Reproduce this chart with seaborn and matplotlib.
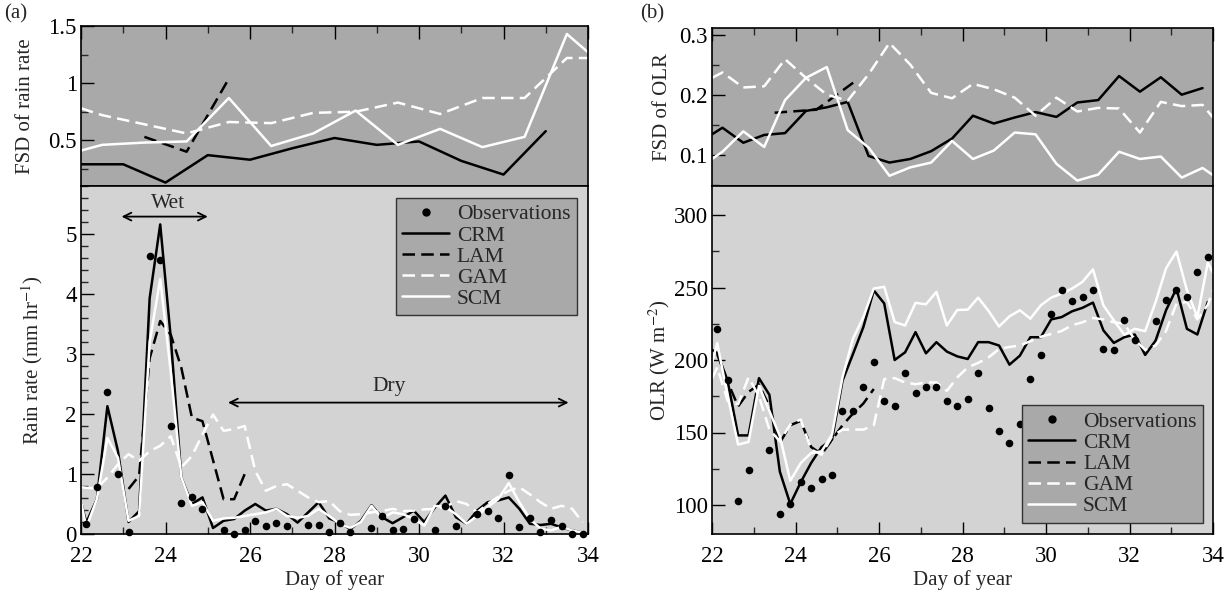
import numpy as np
import pandas as pd
import matplotlib
matplotlib.use("Agg")
import matplotlib.pyplot as plt
import matplotlib.ticker as mticker
from matplotlib.lines import Line2D
import seaborn as sns

nan = np.nan

# ---------------- (a) upper: FSD of rain rate ----------------
fsd_rain_crm_day = [22, 23, 24, 25, 26, 27, 28, 29, 30, 31, 32, 33]
fsd_rain_crm = [0.29, 0.29, 0.13, 0.37, 0.33, 0.43, 0.52, 0.46, 0.49, 0.32, 0.20, 0.58]
fsd_rain_lam_day = [23.5, 24.5, 25.5]
fsd_rain_lam = [0.53, 0.40, 1.04]
fsd_rain_half_day = [22.0, 22.5, 23.5, 24.5, 25.5, 26.5, 27.5, 28.5, 29.5, 30.5, 31.5, 32.5, 33.5, 34.0]
fsd_rain_gam = [0.78, 0.72, 0.64, 0.56, 0.66, 0.65, 0.74, 0.75, 0.83, 0.73, 0.87, 0.87, 1.22, 1.22]
fsd_rain_scm = [0.41, 0.46, 0.48, 0.49, 0.87, 0.45, 0.56, 0.76, 0.46, 0.60, 0.44, 0.53, 1.43, 1.27]

# ---------------- (a) lower: rain rate, 6-hourly ----------------
rain_day = [22.0] + list(np.arange(22.125, 34.0, 0.25))
rain_obs = [nan, 0.17, 0.79, 2.36, 1.00, 0.04, nan, 4.63, 4.56, 1.80,
            0.51, 0.61, 0.42, nan, 0.06, 0.00, 0.06, 0.22, 0.13, 0.19,
            0.14, nan, 0.15, 0.15, 0.03, 0.19, 0.04, nan, 0.10, 0.30,
            0.07, 0.08, 0.25, nan, 0.07, 0.47, 0.14, nan, 0.33, 0.39,
            0.27, 0.99, 0.11, 0.26, 0.04, 0.24, 0.14, 0.00, 0.00]
rain_crm = [0.53, 0.19, 0.58, 2.13, 1.38, 0.20, 0.38, 3.93, 5.16, 3.27,
            0.94, 0.50, 0.61, 0.10, 0.22, 0.25, 0.39, 0.50, 0.39, 0.42,
            0.33, 0.19, 0.36, 0.53, 0.26, 0.19, 0.08, 0.22, 0.48, 0.28,
            0.18, 0.28, 0.39, 0.20, 0.44, 0.64, 0.28, 0.17, 0.39, 0.53,
            0.56, 0.61, 0.42, 0.17, 0.15, 0.17, 0.11, 0.06, 0.02]
rain_lam = [nan, nan, nan, nan, nan, 0.75, 0.97, 2.93, 3.55, 3.32,
            2.77, 1.94, 1.88, 1.23, 0.58, 0.58, 1.00] + [nan] * 32
rain_gam = [0.78, 0.77, 0.76, 0.94, 1.16, 1.33, 1.22, 1.38, 1.47, 1.63,
            1.11, 1.30, 1.66, 1.99, 1.72, 1.75, 1.80, 1.05, 0.72, 0.80,
            0.83, 0.72, 0.61, 0.53, 0.55, 0.38, 0.32, 0.33, 0.36, 0.38,
            0.42, 0.38, 0.39, 0.41, 0.42, 0.45, 0.55, 0.50, 0.36, 0.50,
            0.62, 0.72, 0.78, 0.66, 0.53, 0.42, 0.47, 0.42, 0.19]
rain_scm = [0.55, 0.11, 0.58, 1.60, 1.27, 0.22, 0.30, 3.20, 4.25, 2.70,
            0.94, 0.47, 0.53, 0.22, 0.26, 0.27, 0.30, 0.33, 0.36, 0.42,
            0.30, 0.27, 0.30, 0.42, 0.30, 0.17, 0.10, 0.20, 0.47, 0.26,
            0.36, 0.33, 0.25, 0.14, 0.47, 0.45, 0.33, 0.17, 0.30, 0.45,
            0.58, 0.85, 0.53, 0.25, 0.09, 0.06, 0.12, 0.06, 0.02]

# ---------------- (b) upper: FSD of OLR ----------------
fsd_olr_day = [22.0] + list(np.arange(22.25, 34.0, 0.5)) + [34.0]
fsd_olr_crm = [0.134, 0.145, 0.120, 0.133, 0.136, 0.173, 0.179, 0.188, 0.098, 0.087,
               0.093, 0.106, 0.127, 0.165, 0.152, 0.162, 0.171, 0.163, 0.187, 0.191,
               0.231, 0.205, 0.229, 0.200, 0.211, nan]
fsd_olr_lam_day = [23.5, 24.5, 25.5]
fsd_olr_lam = [0.170, 0.175, 0.226]
fsd_olr_gam = [0.228, 0.237, 0.212, 0.214, 0.259, 0.228, 0.200, 0.190, 0.234, 0.286,
               0.250, 0.203, 0.194, 0.218, 0.209, 0.195, 0.165, 0.195, 0.172, 0.178,
               0.177, 0.137, 0.188, 0.181, 0.183, 0.162]
fsd_olr_scm = [0.093, 0.105, 0.139, 0.113, 0.191, 0.228, 0.246, 0.141, 0.112, 0.065,
               0.079, 0.087, 0.123, 0.093, 0.107, 0.137, 0.134, 0.085, 0.057, 0.067,
               0.105, 0.093, 0.097, 0.062, 0.078, 0.066]

# ---------------- (b) lower: OLR, 6-hourly ----------------
olr_day = [22.0] + list(np.arange(22.125, 34.0, 0.25)) + [34.0]
olr_obs = [nan, 221.5, 186.1, 102.8, 123.8, nan, 137.7, 93.7, 100.7, 116.2,
           111.6, 118.0, 120.4, 164.8, 164.8, 181.7, 198.4, 171.8, 168.3, 190.7,
           177.1, 181.7, 181.3, 171.8, 168.5, 172.9, 191.0, 167.1, 150.9, 142.8,
           156.0, 186.8, 203.5, 231.5, 248.1, 240.7, 243.5, 248.1, 207.6, 207.2,
           227.3, 214.0, nan, 226.9, 241.2, 248.6, 243.5, 260.4, 270.8, nan]
olr_crm = [207, 205, 185.6, 148, 148, 187.5, 176, 123, 100.7, 115.7,
           129, 140, 145, 185.6, 204, 222.7, 248, 239, 200, 205.3,
           219.2, 204.6, 212.3, 205.8, 202.5, 200.7, 212.3, 212.3, 210, 196.8,
           203, 215.7, 215.7, 228, 229.6, 233.6, 236, 239.6, 220.4, 211.8,
           215.7, 217.6, 203.5, 213.4, 234.3, 249.3, 221.5, 217.6, 240, nan]
olr_lam = [nan, 204, 185, 168, 178, 183, 168, 143, 155, 158,
           140, 135, 145, 155, 163, 170, 180] + [nan] * 33
olr_gam = [187, 195, 171.7, 169.4, 188, 175, 152, 144, 155.5, 159,
           138.2, 134.7, 147.4, 152, 152, 152, 155, 186.8, 187.5, 184.5,
           183.3, 184.5, 184.5, 178.7, 188, 194.9, 198, 201.8, 207.6, 209,
           210, 213, 216, 218, 220, 224, 226, 229, 228, 226,
           225, 214, 207, 210, 220, 238.9, 240, 228, 238, 248]
olr_scm = [198, 211.6, 175.2, 141.7, 143.5, 182.2, 164.8, 147.5, 116.7, 128.9,
           135.9, 137, 148.6, 188, 214.6, 229.6, 249.3, 250.5, 226.2, 223.8,
           239.4, 238.4, 247, 223.8, 234.5, 234.7, 243, 233.8, 223.1, 230.1,
           234.3, 228.5, 237.7, 243, 245.8, 249.3, 253.9, 262.5, 237.7, 227.3,
           217.4, 221.5, 219.9, 240, 263.2, 274.8, 248.1, 229.6, 267.1, 260]

models = ["CRM", "LAM", "GAM", "SCM"]
palette = {"CRM": "black", "LAM": "black", "GAM": "white", "SCM": "white"}
dashes = {"CRM": "", "LAM": (5, 2.5), "GAM": (5, 2.5), "SCM": ""}
TOP_BG = "#a9a9a9"
LOW_BG = "#d3d3d3"

sns.set_theme(style="ticks")
plt.rcParams["font.family"] = ["Liberation Serif", "DejaVu Serif"]
plt.rcParams["mathtext.fontset"] = "stix"
plt.rcParams["xtick.direction"] = "in"
plt.rcParams["ytick.direction"] = "in"


def long_frame(series):
    parts = [pd.DataFrame({"day": d, "value": v, "model": name})
             for name, (d, v) in series.items()]
    return pd.concat(parts, ignore_index=True).dropna()


def draw_models(ax, frame):
    sns.lineplot(data=frame, x="day", y="value", hue="model", style="model",
                 hue_order=models, style_order=models, palette=palette,
                 dashes=dashes, estimator=None, linewidth=1.8, legend=False, ax=ax)


def draw_obs(ax, day, obs):
    sub = pd.DataFrame({"day": day, "obs": obs}).dropna()
    sns.scatterplot(data=sub, x="day", y="obs", color="black", s=30,
                    linewidth=0, zorder=5, clip_on=False, ax=ax)


def style_axes(ax, top):
    ax.set_xlim(22, 34)
    ax.xaxis.set_major_locator(mticker.MultipleLocator(2))
    ax.xaxis.set_minor_locator(mticker.MultipleLocator(1))
    ax.yaxis.set_major_formatter(mticker.FuncFormatter(lambda v, p: f"{v:g}"))
    ax.tick_params(which="major", length=9, width=1, labelsize=16.5, colors="black")
    ax.tick_params(which="minor", length=5, width=1)
    ax.tick_params(axis="y", which="both", left=True, right=False, pad=3)
    if top:
        ax.tick_params(axis="x", which="both", top=True, bottom=False, labelbottom=False)
        ax.set_facecolor(TOP_BG)
        ax.set_xlabel("")
    else:
        ax.tick_params(axis="x", which="both", top=False, bottom=True, pad=9)
        ax.set_facecolor(LOW_BG)
        ax.set_xlabel("Day of year", fontsize=15)
        ax.xaxis.set_label_coords(0.5, -0.105)
    for s in ax.spines.values():
        s.set_color("black")
        s.set_linewidth(1.2)


def add_legend(ax, **kw):
    handles = [Line2D([], [], marker="o", color="black", linestyle="none", markersize=5)]
    for m in models:
        ls = "-" if dashes[m] == "" else (0, dashes[m])
        handles.append(Line2D([], [], color=palette[m], linewidth=1.8, linestyle=ls))
    leg = ax.legend(handles, ["Observations"] + models, frameon=True, fancybox=False,
                    facecolor=TOP_BG, edgecolor="#333333", framealpha=1, fontsize=15.5,
                    handlelength=2.2, handletextpad=0.35, labelspacing=0.05,
                    borderpad=0.3, borderaxespad=0, **kw)
    leg.get_frame().set_linewidth(1.0)


W, H = 1229, 591
fig = plt.figure(figsize=(W / 100, H / 100), dpi=100)
ax_at = fig.add_axes([81 / W, 1 - 186 / H, 507 / W, 160 / H])
ax_al = fig.add_axes([81 / W, 1 - 534 / H, 507 / W, 348 / H])
ax_bt = fig.add_axes([712 / W, 1 - 186 / H, 501 / W, 158 / H])
ax_bl = fig.add_axes([712 / W, 1 - 534 / H, 501 / W, 348 / H])

# (a) upper
draw_models(ax_at, long_frame({"CRM": (fsd_rain_crm_day, fsd_rain_crm),
                               "LAM": (fsd_rain_lam_day, fsd_rain_lam),
                               "GAM": (fsd_rain_half_day, fsd_rain_gam),
                               "SCM": (fsd_rain_half_day, fsd_rain_scm)}))
style_axes(ax_at, top=True)
ax_at.set_ylim(0.1, 1.5)
ax_at.yaxis.set_major_locator(mticker.MultipleLocator(0.5))
ax_at.yaxis.set_minor_locator(mticker.MultipleLocator(0.25))
ax_at.set_ylabel("FSD of rain rate", fontsize=15)
ax_at.yaxis.set_label_coords(-0.09, 0.5)

# (a) lower
draw_models(ax_al, long_frame({m: (rain_day, v) for m, v in
                               zip(models, [rain_crm, rain_lam, rain_gam, rain_scm])}))
draw_obs(ax_al, rain_day, rain_obs)
style_axes(ax_al, top=False)
ax_al.set_ylim(0, 5.8)
ax_al.yaxis.set_major_locator(mticker.MultipleLocator(1))
ax_al.yaxis.set_minor_locator(mticker.MultipleLocator(0.2))
ax_al.set_ylabel("Rain rate (mm hr$^{-1}$)", fontsize=15)
ax_al.yaxis.set_label_coords(-0.071, 0.5)
arrow = dict(arrowstyle="<->", color="black", lw=1.3, shrinkA=0, shrinkB=0, mutation_scale=14)
ax_al.annotate("", xy=(22.96, 5.29), xytext=(25.0, 5.29), arrowprops=arrow)
ax_al.text(24.05, 5.5, "Wet", ha="center", va="center", fontsize=15.5)
ax_al.annotate("", xy=(25.48, 2.19), xytext=(33.54, 2.19), arrowprops=arrow)
ax_al.text(29.3, 2.46, "Dry", ha="center", va="center", fontsize=15.5)
add_legend(ax_al, loc="upper right", bbox_to_anchor=(0.978, 0.966))

# (b) upper
draw_models(ax_bt, long_frame({"CRM": (fsd_olr_day, fsd_olr_crm),
                               "LAM": (fsd_olr_lam_day, fsd_olr_lam),
                               "GAM": (fsd_olr_day, fsd_olr_gam),
                               "SCM": (fsd_olr_day, fsd_olr_scm)}))
style_axes(ax_bt, top=True)
ax_bt.set_ylim(0.048, 0.311)
ax_bt.yaxis.set_major_locator(mticker.MultipleLocator(0.1))
ax_bt.yaxis.set_minor_locator(mticker.MultipleLocator(0.05))
ax_bt.set_ylabel("FSD of OLR", fontsize=15)
ax_bt.yaxis.set_label_coords(-0.08, 0.5)

# (b) lower
draw_models(ax_bl, long_frame({m: (olr_day, v) for m, v in
                               zip(models, [olr_crm, olr_lam, olr_gam, olr_scm])}))
draw_obs(ax_bl, olr_day, olr_obs)
style_axes(ax_bl, top=False)
ax_bl.set_ylim(80, 320)
ax_bl.yaxis.set_major_locator(mticker.MultipleLocator(50))
ax_bl.yaxis.set_minor_locator(mticker.MultipleLocator(25))
ax_bl.set_ylabel("OLR (W m$^{-2}$)", fontsize=15)
ax_bl.yaxis.set_label_coords(-0.08, 0.5)
add_legend(ax_bl, loc="lower right", bbox_to_anchor=(0.98, 0.032))

fig.text(4 / W, 1 - 14 / H, "(a)", fontsize=15, va="center")
fig.text(640 / W, 1 - 14 / H, "(b)", fontsize=15, va="center")

fig.savefig("out.png", dpi=100, facecolor="white")
